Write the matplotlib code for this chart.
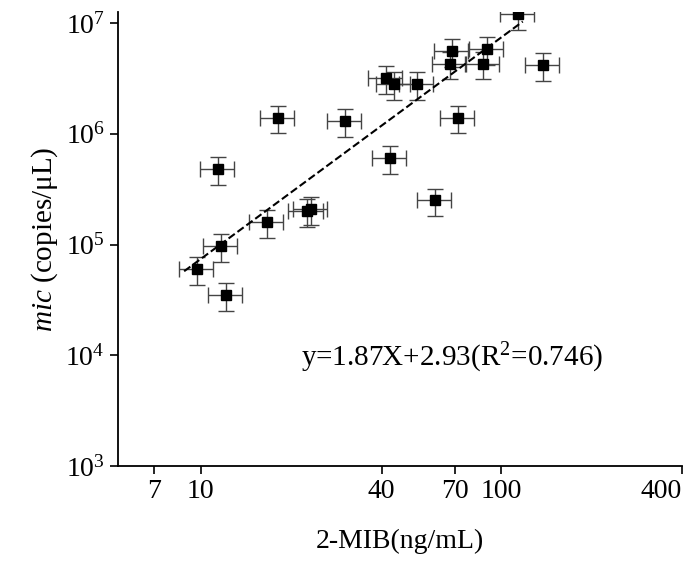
import matplotlib
matplotlib.use("Agg")
import matplotlib.pyplot as plt
import numpy as np
from matplotlib.ticker import FixedLocator, FixedFormatter, NullLocator

mib = [9.7, 11.7, 12.1, 11.4, 18.1, 16.6, 22.5, 23.3, 30.2, 41.4, 44.0, 42.7, 52.5, 60.4, 67.6, 68.7, 71.8, 87.0, 89.8, 114.0, 138.0]
mic = [6.0e4, 9.7e4, 3.5e4, 4.8e5, 1.4e6, 1.6e5, 2.0e5, 2.1e5, 1.3e6, 3.2e6, 2.8e6, 6.0e5, 2.8e6, 2.5e5, 4.3e6, 5.6e6, 1.4e6, 4.3e6, 5.8e6, 1.2e7, 4.2e6]
x_rel_err = 0.13
y_rel_err = 0.28
fit_slope, fit_intercept = 2.0, 2.87
fit_range = [8.8, 118]
xticks = [7, 10, 40, 70, 100, 400]
xticklabels = ["7", "10", "40", "70", "100", "400"]
yticks = [1e3, 1e4, 1e5, 1e6, 1e7]

plt.rcParams["font.family"] = "Liberation Serif"
plt.rcParams["mathtext.fontset"] = "custom"
plt.rcParams["mathtext.rm"] = "Liberation Serif"
plt.rcParams["mathtext.it"] = "Liberation Serif:italic"
fig = plt.figure(figsize=(6.85, 5.73), dpi=100)
ax = fig.add_axes([118/685, 1-466/573, 564/685, (466-12)/573])

x = np.array(mib); y = np.array(mic)
ax.errorbar(x, y, xerr=[x*x_rel_err, x*x_rel_err], yerr=[y*y_rel_err, y*y_rel_err],
            fmt="s", color="black", ms=7, ecolor="#444444", elinewidth=1.0, capsize=6, capthick=1.0)
fx = np.logspace(np.log10(fit_range[0]), np.log10(fit_range[1]), 50)
ax.plot(fx, 10**(fit_slope*np.log10(fx)+fit_intercept), "k--", lw=1.5)

ax.set_xscale("log"); ax.set_yscale("log")
ax.set_xlim(5.3, 400); ax.set_ylim(1e3, 10**7.1)
ax.xaxis.set_major_locator(FixedLocator(xticks))
ax.xaxis.set_major_formatter(FixedFormatter(xticklabels))
ax.xaxis.set_minor_locator(NullLocator())
ax.yaxis.set_major_locator(FixedLocator(yticks))
ax.yaxis.set_minor_locator(NullLocator())
ax.spines["top"].set_visible(False); ax.spines["right"].set_visible(False)
ax.tick_params(labelsize=20, width=1.2, length=6)
for s in ax.spines.values(): s.set_linewidth(1.3)
ax.get_xticklabels()[-1].set_horizontalalignment("right")
ax.set_xlabel("2-MIB(ng/mL)", fontsize=20, labelpad=18)
ax.set_ylabel(r"$\it{mic}$ (copies/μL)", fontsize=21)
ax.text(21.5, 10**3.9, r"y=1.87X+2.93(R$^2$=0.746)", fontsize=21)
fig.savefig("out.png", dpi=100)
